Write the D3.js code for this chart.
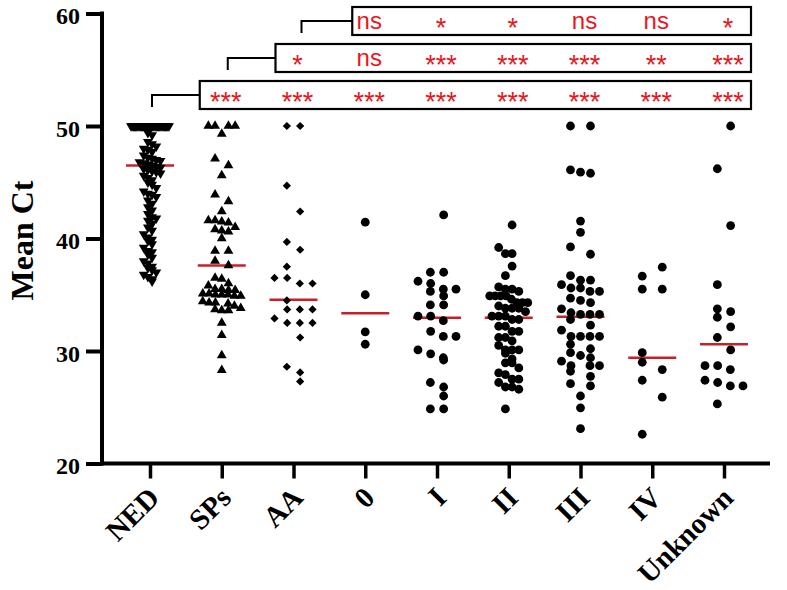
<!DOCTYPE html>
<html><head><meta charset="utf-8">
<script src="https://cdn.jsdelivr.net/npm/d3@7"></script>
<style>body{margin:0;background:#fff}</style>
</head><body>
<svg id="chart" width="787" height="590"></svg>
<script>
// ---------------- DATA ----------------
const categories = ["NED","SPs","AA","0","I","II","III","IV","Unknown"];
const yTicks = [20,30,40,50,60];

const nedValues = [50,50,50,50,50,50,50,50,50,50,50,50,50,50,50,50,50,50,50,50,50,50,50,50,50,50,50,50,50,50,50,50,50,50,
  49.4,49.2,48.6,48.4,48.2,48.0,47.9,47.7,
  47.4,47.2,47.1,47.0,46.9,46.8,46.7,46.6,46.5,
  46.4,46.3,46.2,46.1,46.0,45.9,45.8,45.6,45.4,45.2,45.0,44.8,
  44.5,44.2,44.0,43.9,43.7,43.4,43.1,42.8,
  42.5,42.2,41.9,41.8,41.6,41.3,41.0,40.7,40.4,
  40.1,39.9,39.8,39.5,39.2,38.9,38.8,38.6,38.3,38.0,
  37.8,37.5,37.4,37.2,37.0,36.8,36.6,36.4,36.2];
const spsValues = [50,50,50,50,49.3,47.1,46.5,45.6,43.9,43.3,42.4,
  41.6,41.6,41.5,41.4,41.0,40.8,40.7,40.6,40.0,38.9,38.9,38.0,37.6,36.5,36.4,
  36.0,35.5,35.5,35.4,35.4,35.8,35.0,35.0,34.9,34.9,35.0,35.1,35.1,
  34.3,34.3,34.2,34.4,34.0,33.7,33.6,33.6,33.8,32.5,31.4,29.6,28.3];
const aaValues = [50,50,44.7,42.4,39.7,39.0,37.5,36.5,36.5,36.0,36.0,34.5,33.7,33.7,33.7,32.9,32.5,32.5,32.5,31.2,28.6,28.1,27.3];
const stage0Values = [41.45,35.0,31.7,30.6];
const stageIValues = [42.1,37.0,37.0,36.2,36.0,35.5,35.5,35.3,34.9,34.1,34.1,33.1,33.1,32.7,31.75,31.3,31.3,30.1,29.75,29.4,29.2,27.2,26.8,26.0,24.85,24.85];
const stageIIValues = [41.2,39.2,38.65,38.65,37.55,36.7,35.7,35.5,35.5,35.3,34.9,34.9,34.9,34.9,34.6,34.3,34.3,34.3,34.0,33.8,33.8,33.8,33.5,33.1,33.1,33.1,32.8,32.8,32.2,32.2,31.75,31.75,31.2,31.2,30.9,30.5,30.1,30.1,30.1,29.8,29.3,28.95,28.95,28.5,28.05,27.9,27.5,27.5,27.2,26.8,26.8,26.6,24.85];
const stageIIIValues = [50,50,46.1,45.9,45.8,41.55,40.55,39.25,38.6,36.7,36.3,36.3,35.9,35.6,35.6,35.3,35.3,34.7,34.5,34.3,33.75,33.4,33.25,33.25,33.25,32.8,32.3,31.85,31.3,31.3,31.3,31.3,30.6,30.2,29.85,29.6,29.4,29.1,28.7,28.7,28.7,28.2,27.75,27.1,26.9,26.0,24.95,23.1];
const stageIVValues = [37.45,36.65,35.5,35.5,29.85,29.0,28.35,27.4,25.9,22.6];
const unknownValues = [50,46.2,41.15,35.9,33.75,33.5,33.0,32.15,31.2,30.1,28.7,28.7,28.35,27.4,27.2,26.9,26.9,25.3];
const medians = [46.5,37.6,34.55,33.35,32.95,32.95,33.05,29.4,30.6];

// significance rows: reference group, then labels for each following group
const sigRefs = ["NED","SPs","AA"];
const sigNED = ["***","***","***","***","***","***","***","***"];
const sigSPs = ["*","ns","***","***","***","**","***"];
const sigAA  = ["ns","*","*","ns","ns","*"];

// ---------------- DRAWING ----------------
const groups = [nedValues,spsValues,aaValues,stage0Values,stageIValues,stageIIValues,stageIIIValues,stageIVValues,unknownValues];
const shapes = ["tdown","tup","diamond","circle","circle","circle","circle","circle","circle"];
const spacing = [4.2,6.7,13.3,13.3,13.3,6.7,10,20,13.3];
const binH = [6,7,7,8,8,7,8,8,8];

const svg = d3.select("#chart");
const x = d3.scalePoint().domain(categories).range([150,724]);
const y = d3.scaleLinear().domain([20,60]).range([463.5,13.5]);
const serif = "'Liberation Serif','Times New Roman',serif";
const sans = "'Liberation Sans',Arial,sans-serif";
const RED = "#e8161d";

// y axis
const gy = svg.append("g").attr("transform","translate(102,0)")
  .call(d3.axisLeft(y).tickValues(yTicks).tickSize(16).tickPadding(6).tickFormat(d3.format("d")));
gy.select(".domain").remove();
gy.selectAll(".tick line").attr("stroke","#000").attr("stroke-width",4);
gy.selectAll(".tick text").attr("fill","#000").attr("dy","0.42em")
  .style("font-family",serif).style("font-weight","bold").style("font-size","24px");
svg.append("line").attr("x1",102).attr("x2",102).attr("y1",y(60)-2).attr("y2",y(20)+2)
  .attr("stroke","#000").attr("stroke-width",4);

// x axis
const gx = svg.append("g").attr("transform",`translate(0,${y(20)})`)
  .call(d3.axisBottom(x).tickSize(15).tickPadding(0));
gx.select(".domain").remove();
gx.selectAll(".tick line").attr("stroke","#000").attr("stroke-width",3.5);
gx.selectAll(".tick text").remove();
svg.append("line").attr("x1",100).attr("x2",770).attr("y1",y(20)).attr("y2",y(20))
  .attr("stroke","#000").attr("stroke-width",4);
svg.append("g").selectAll("text").data(categories).join("text")
  .attr("transform",d=>`translate(${x(d)+11},${y(20)+36}) rotate(-45)`)
  .attr("text-anchor","end")
  .style("font-family",serif).style("font-weight","bold").style("font-size","29px")
  .text(d=>d);

// y axis title
svg.append("text").attr("transform",`translate(33,${(y(20)+y(60))/2+2}) rotate(-90)`)
  .attr("text-anchor","middle")
  .style("font-family",serif).style("font-weight","bold").style("font-size","32px")
  .text("Mean Ct");

// median lines
svg.append("g").selectAll("line").data(categories).join("line")
  .attr("x1",(d)=>x(d)-24).attr("x2",(d)=>x(d)+24)
  .attr("y1",(d,i)=>y(medians[i])).attr("y2",(d,i)=>y(medians[i]))
  .attr("stroke","#c8202a").attr("stroke-width",2.5);

// point layout (rows of near-equal values spread horizontally)
function layoutGroup(values, cx, s, bh, maxHalf){
  const pts = values.map(v=>({v,py:y(v)})).sort((a,b)=>a.py-b.py);
  const rows=[]; let cur=null;
  for(const p of pts){
    if(!cur || p.py-cur[0].py>=bh){cur=[p];rows.push(cur);} else cur.push(p);
  }
  const parity = d3.max(rows,r=>r.length)%2;
  rows.forEach((row,ri)=>{
    const n=row.length; let offs;
    if(n%2===parity) offs=d3.range(n).map(i=>i-(n-1)/2);
    else if(parity===1) offs=d3.range(n+1).map(i=>i-n/2).filter(k=>k!==0);
    else { const sh = ri%2===0?0.5:-0.5; offs=d3.range(n).map(i=>i-(n-1)/2+sh); }
    const m = d3.max(offs.map(Math.abs));
    const step = m*s>maxHalf ? maxHalf/m : s;
    row.forEach((p,i)=>{p.px=cx+offs[i]*step;});
  });
  return pts;
}

const gPts = svg.append("g");
categories.forEach((c,gi)=>{
  const pts = layoutGroup(groups[gi], x(c), spacing[gi], binH[gi], 19);
  const sh = shapes[gi];
  const sel = gPts.append("g").selectAll("path").data(pts).join("path").attr("fill","#000");
  if(sh==="circle"){
    sel.attr("d",d3.symbol(d3.symbolCircle, Math.PI*4.4*4.4)())
       .attr("transform",d=>`translate(${d.px},${d.py})`);
  } else if(sh==="diamond"){
    sel.attr("d",d3.symbol(d3.symbolSquare,34)())
       .attr("transform",d=>`translate(${d.px},${d.py}) rotate(45)`);
  } else {
    sel.attr("d",d3.symbol(d3.symbolTriangle,42)())
       .attr("transform",d=>`translate(${d.px},${d.py})${sh==="tdown"?" rotate(180)":""}`);
  }
});

// significance brackets
const sigRows = [sigNED,sigSPs,sigAA];
const leftPad = [22,18,13];
const refShift = [2,6,8];
const starSize = 27;
sigRows.forEach((labels,r)=>{
  const ref = sigRefs[r];
  const ri = categories.indexOf(ref);
  const comp = categories.slice(ri+1);
  const top = 81-37*r, bot = top+28, mid = (top+bot)/2;
  const left = x(comp[0])-leftPad[r], right = x(comp[comp.length-1])+27;
  const g = svg.append("g");
  g.append("rect").attr("x",left).attr("y",top).attr("width",right-left).attr("height",bot-top)
    .attr("fill","none").attr("stroke","#000").attr("stroke-width",2.2);
  const bx = x(ref)+refShift[r];
  g.append("path").attr("d",`M${bx},${bot-2}V${mid}H${left}`)
    .attr("fill","none").attr("stroke","#000").attr("stroke-width",2);
  g.selectAll("text").data(labels).join("text")
    .attr("x",(d,i)=>x(comp[i])+4)
    .attr("y",d=>d==="ns"? mid+8 : mid+3+0.48*starSize)
    .attr("text-anchor","middle").attr("fill",RED)
    .style("font-family",sans).style("font-size",d=>d==="ns"?"24px":starSize+"px")
    .text(d=>d);
});
</script>
</body></html>
